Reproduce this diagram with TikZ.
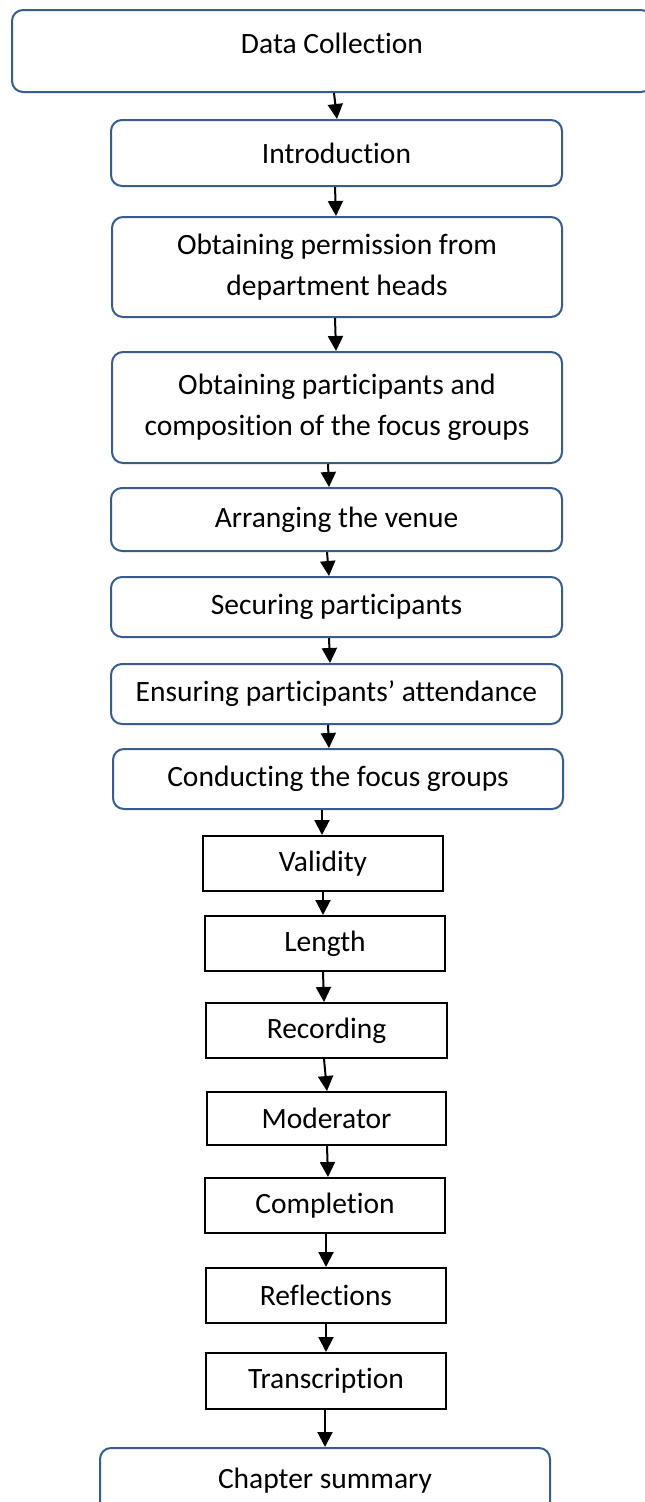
\documentclass[tikz,border=0pt]{standalone}
\usepackage{fontspec}
\setmainfont{Carlito}[Ligatures=NoCommon]
\usetikzlibrary{arrows.meta}
\definecolor{boxblue}{RGB}{56,93,138}
\tikzset{
  roundbox/.style={draw=boxblue, line width=2pt, rounded corners=11pt, fill=white,
    align=center, inner sep=0pt, font=\fontsize{29.5}{41}\selectfont},
  plainbox/.style={draw=black, line width=2pt, fill=white,
    align=center, inner sep=0pt, font=\fontsize{29.5}{41}\selectfont},
  flow/.style={-{Triangle[width=15pt,length=15pt]}, line width=2pt, black}
}
\begin{document}
\begin{tikzpicture}[x=1pt,y=-1pt]
  \useasboundingbox (0,0) rectangle (645,1502);
  \fill[white] (0,0) rectangle (645,1502);

  % rounded steps
  \node[roundbox, minimum width=640pt, minimum height=82pt] (dc) at (332,51)
    {\raisebox{16pt}{Data Collection}};
  \node[roundbox, minimum width=451pt, minimum height=66pt] (intro) at (336.5,153) {Introduction};
  \node[roundbox, minimum width=450pt, minimum height=100pt] (perm) at (337,267)
    {Obtaining permission from\\department heads};
  \node[roundbox, minimum width=450pt, minimum height=111pt] (part) at (337,407.5)
    {Obtaining participants and\\composition of the focus groups};
  \node[roundbox, minimum width=451pt, minimum height=63pt] (venue) at (336.5,519.5) {Arranging the venue};
  \node[roundbox, minimum width=451pt, minimum height=60pt] (secure) at (336.5,607) {Securing participants};
  \node[roundbox, minimum width=451pt, minimum height=60pt] (attend) at (336.5,694) {Ensuring participants’ attendance};
  \node[roundbox, minimum width=450pt, minimum height=60pt] (conduct) at (338,779) {Conducting the focus groups};

  % square steps
  \node[plainbox, minimum width=240pt, minimum height=55pt] (valid) at (323,863.5) {Validity};
  \node[plainbox, minimum width=240pt, minimum height=55pt] (length) at (325,943.5) {Length};
  \node[plainbox, minimum width=241pt, minimum height=55pt] (record) at (326.5,1030.5) {Recording};
  \node[plainbox, minimum width=239pt, minimum height=53pt] (moder) at (326.5,1118.5) {Moderator};
  \node[plainbox, minimum width=240pt, minimum height=55pt] (compl) at (325,1205.5) {Completion};
  \node[plainbox, minimum width=240pt, minimum height=55pt] (reflect) at (326,1295.5) {Reflections};
  \node[plainbox, minimum width=240pt, minimum height=56pt] (transc) at (326,1381) {Transcription};

  \node[roundbox, minimum width=450pt, minimum height=66pt] (summary) at (325,1481) {Chapter summary};

  % connectors
  \draw[flow] ([xshift=2pt]dc.south) -- ([xshift=0.5pt]intro.north);
  \draw[flow] ([xshift=-1.5pt]intro.south) -- ([xshift=-1pt]perm.north);
  \draw[flow] ([xshift=-2pt]perm.south) -- ([xshift=-1pt]part.north);
  \draw[flow] ([xshift=-9pt]part.south) -- ([xshift=-7.5pt]venue.north);
  \draw[flow] ([xshift=-9.5pt]venue.south) -- ([xshift=-7.5pt]secure.north);
  \draw[flow] ([xshift=-7.5pt]secure.south) -- ([xshift=-6.5pt]attend.north);
  \draw[flow] ([xshift=-8.5pt]attend.south) -- ([xshift=-9pt]conduct.north);
  \draw[flow] ([xshift=-16pt]conduct.south) -- ([xshift=-1pt]valid.north);
  \draw[flow] (valid.south) -- ([xshift=-2pt]length.north);
  \draw[flow] ([xshift=-2pt]length.south) -- ([xshift=-2.5pt]record.north);
  \draw[flow] ([xshift=-2.5pt]record.south) -- ([xshift=0.5pt]moder.north);
  \draw[flow] ([xshift=0.5pt]moder.south) -- ([xshift=3pt]compl.north);
  \draw[flow] ([xshift=1pt]compl.south) -- (reflect.north);
  \draw[flow] (reflect.south) -- (transc.north);
  \draw[flow] ([xshift=-1pt]transc.south) -- (summary.north);
\end{tikzpicture}
\end{document}
